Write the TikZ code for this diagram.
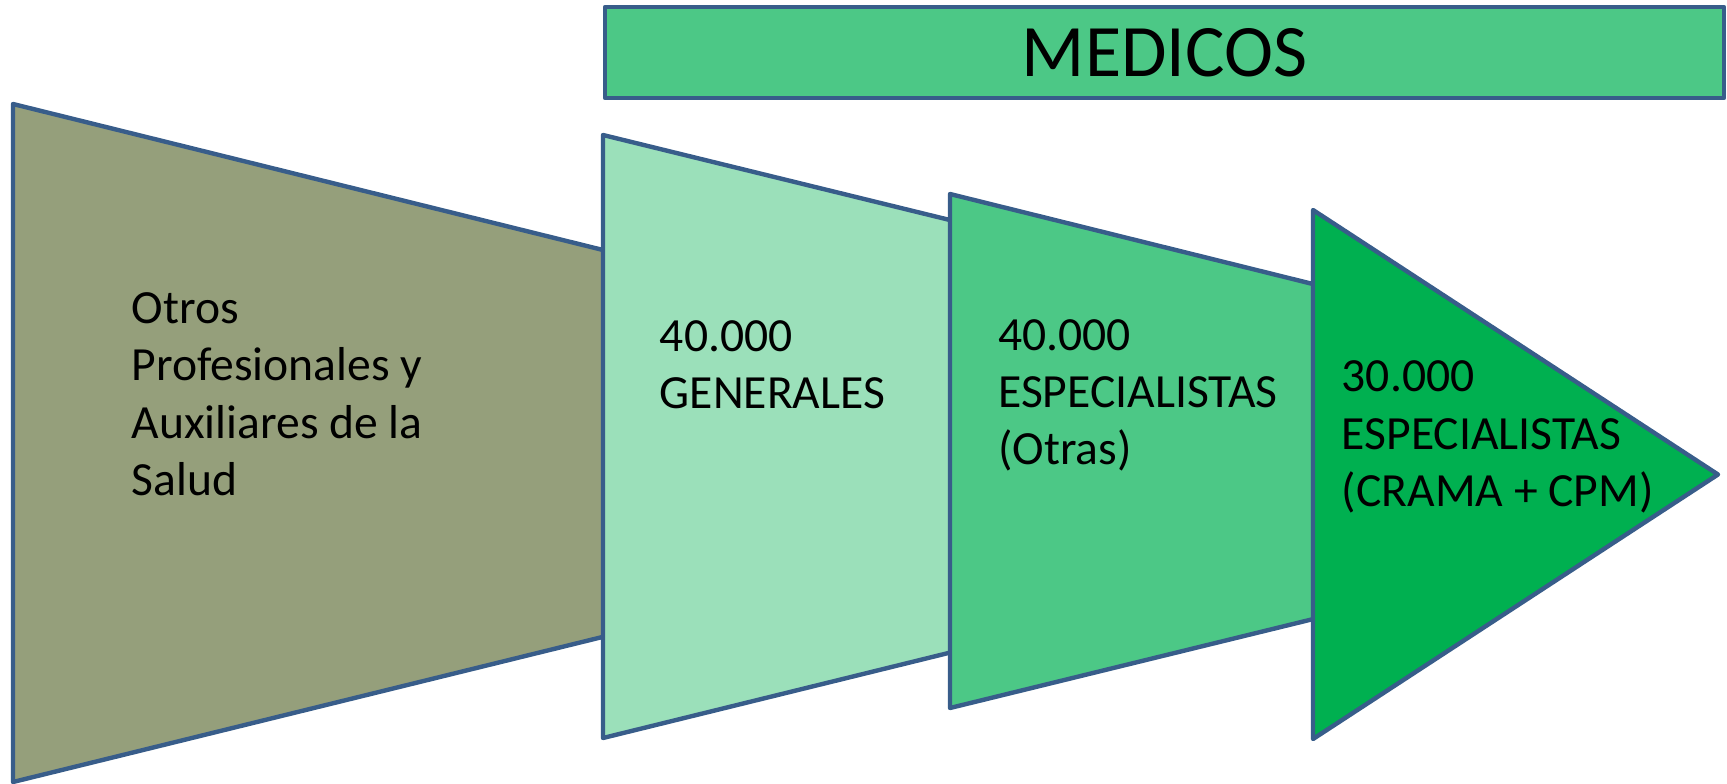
\documentclass[tikz,border=0pt]{standalone}
\usepackage{fontspec}
\setmainfont{Carlito}
\definecolor{edge}{RGB}{56,93,138}
\definecolor{olivegray}{RGB}{149,159,123}
\definecolor{lightgreen}{RGB}{155,224,186}
\definecolor{midgreen}{RGB}{76,200,134}
\definecolor{darkgreen}{RGB}{0,176,80}
\newcommand{\firstln}{\rule{0pt}{40pt}}
\begin{document}
\begin{tikzpicture}[x=1pt,y=-1pt,
  shapeline/.style={line width=4.4pt, draw=edge, line join=round},
  lbl/.style={anchor=north west, inner sep=0pt, align=left, text=black,
              font=\fontsize{47.6}{57.3}\selectfont}]
\useasboundingbox (0,0) rectangle (1727,784);
% shapes, back to front
\filldraw[shapeline, fill=olivegray] (13,104) -- (700,274) -- (700,613) -- (13,782) -- cycle;
\filldraw[shapeline, fill=lightgreen] (603,135) -- (1000,232.3) -- (1000,640.3) -- (603,738) -- cycle;
\filldraw[shapeline, fill=midgreen] (950,194) -- (1360,295.7) -- (1360,607.6) -- (950,708) -- cycle;
\filldraw[shapeline, fill=darkgreen] (1313,210) -- (1718,474.5) -- (1313,739) -- cycle;
\filldraw[shapeline, fill=midgreen] (605,7) rectangle (1724,98);
% texts
\node[anchor=base, inner sep=0pt, font=\fontsize{74}{88}\selectfont] (medicos) at (1164.5,77) {MEDICOS};
\node[lbl] (otros) at (131.6,283.3) {\firstln Otros\\Profesionales y\\Auxiliares de la\\Salud};
\node[lbl] (generales) at (659.7,311) {\firstln 40.000\\GENERALES};
\node[lbl] (otras) at (998,310) {\firstln 40.000\\ESPECIALISTAS\\(Otras)};
\node[lbl] (crama) at (1341.6,351.7) {\firstln 30.000\\ESPECIALISTAS\\(CRAMA + CPM)};
\end{tikzpicture}
\end{document}
